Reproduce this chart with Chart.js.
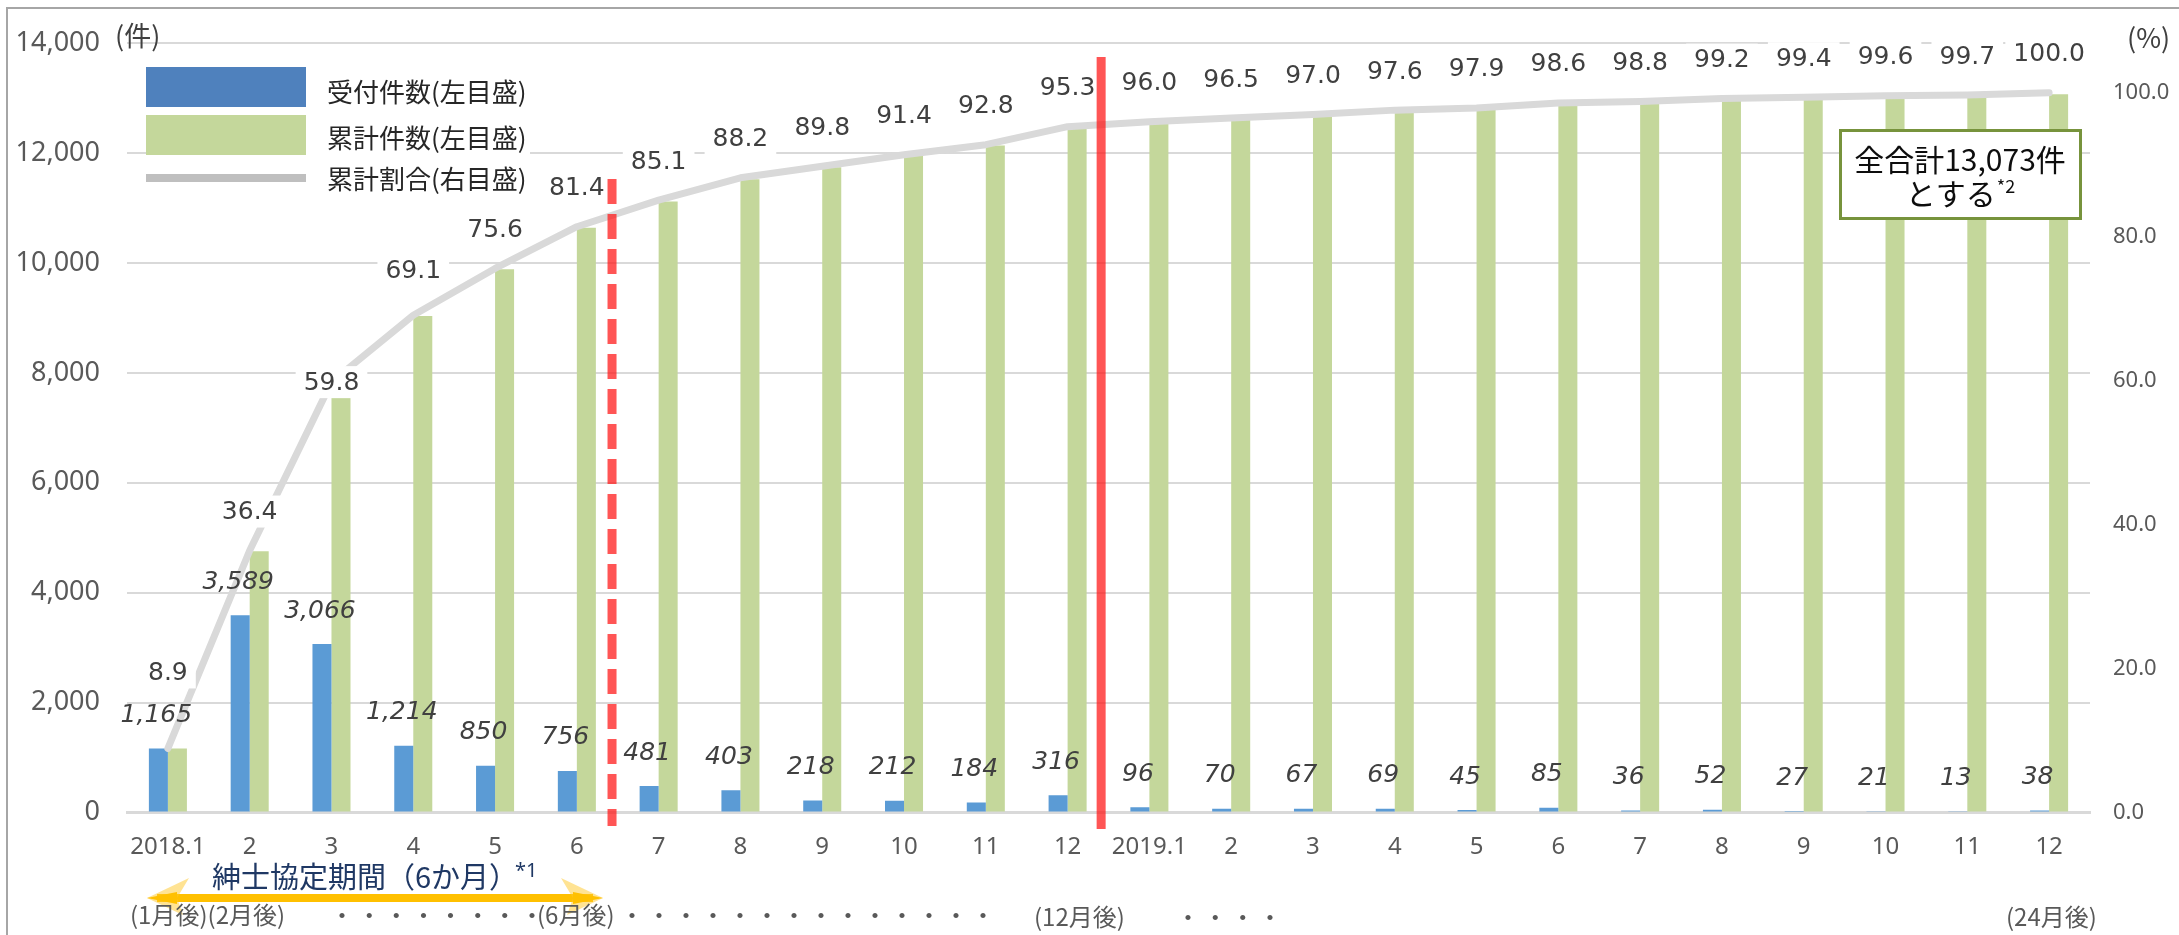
<!DOCTYPE html>
<html>
<head>
<meta charset="utf-8">
<title>受付件数と累計割合</title>
<script src="https://cdn.jsdelivr.net/npm/chart.js@4.4.1/dist/chart.umd.min.js"></script>
<style>
  html, body { margin: 0; padding: 0; background: #ffffff; }
  #wrap { position: relative; width: 2179px; height: 935px; }
  canvas { display: block; }
</style>
</head>
<body>
<div id="wrap"><canvas id="chart" width="2179" height="935"></canvas></div>
<script>
// ---- data ----
const months = ['2018.1','2','3','4','5','6','7','8','9','10','11','12',
                '2019.1','2','3','4','5','6','7','8','9','10','11','12'];
const received = [1165,3589,3066,1214,850,756,481,403,218,212,184,316,
                  96,70,67,69,45,85,36,52,27,21,13,38];
const cumulative = [1165,4754,7820,9034,9884,10640,11121,11524,11742,11954,12138,12454,
                    12550,12620,12687,12756,12801,12886,12922,12974,13001,13022,13035,13073];
const cumulativePct = [8.9,36.4,59.8,69.1,75.6,81.4,85.1,88.2,89.8,91.4,92.8,95.3,
                       96.0,96.5,97.0,97.6,97.9,98.6,98.8,99.2,99.4,99.6,99.7,100.0];
const leftTicks = [0,2000,4000,6000,8000,10000,12000,14000];
const rightTicks = [0,20,40,60,80,100];
const seriesNames = ['受付件数(左目盛)','累計件数(左目盛)','累計割合(右目盛)'];

// ---- styling ----
const LATIN = '"Noto Sans", "Noto Sans CJK JP", sans-serif';
const VALUE = '"DejaVu Sans", "Noto Sans", sans-serif';
const JP = '"Noto Sans CJK JP", "Noto Sans", sans-serif';
const BLUE = '#5b9bd5', BLUE_KEY = '#4f81bd', GREEN = '#c4d79b';
const LINE_GRAY = '#d9d9d9', KEY_GRAY = '#bfbfbf';
const RED = 'rgba(255,20,20,0.72)';
const LABEL = '#404040', TICK = '#595959';

// per-label lift of the percentage labels above their points (px)
const pctLift = i => ({0: 76, 2: 0, 3: 45}[i] ?? 39);

function dotsRow(ctx, x0, x1, n, y) {
  const step = (x1 - x0) / (n - 1);
  ctx.textAlign = 'center';
  for (let k = 0; k < n; k++) ctx.fillText('・', x0 + k * step, y);
}

const overlay = {
  id: 'overlay',
  afterDatasetsDraw(chart) {
    const ctx = chart.ctx;
    const xs = chart.scales.x;
    ctx.save();

    // values on the monthly bars
    const barMeta = chart.getDatasetMeta(0);
    ctx.font = `italic 25px ${VALUE}`;
    ctx.fillStyle = LABEL;
    ctx.textAlign = 'center';
    ctx.textBaseline = 'middle';
    barMeta.data.forEach((el, i) => {
      ctx.fillText(received[i].toLocaleString('en-US'), el.x - 2, el.y - 33);
    });

    // percentage labels with white boxes
    const lineMeta = chart.getDatasetMeta(2);
    ctx.font = `25px ${VALUE}`;
    lineMeta.data.forEach((pt, i) => {
      const txt = cumulativePct[i].toFixed(1);
      const w = ctx.measureText(txt).width;
      const cy = pt.y - pctLift(i);
      ctx.fillStyle = '#ffffff';
      ctx.fillRect(pt.x - w / 2 - 8, cy - 16, w + 16, 32);
      ctx.fillStyle = LABEL;
      ctx.fillText(txt, pt.x, cy + 1);
    });

    // legend
    ctx.fillStyle = '#ffffff';
    ctx.fillRect(146, 60, 384, 130);
    ctx.fillStyle = BLUE_KEY; ctx.fillRect(146, 67, 160, 40);
    ctx.fillStyle = GREEN;    ctx.fillRect(146, 115, 160, 40);
    ctx.fillStyle = KEY_GRAY; ctx.fillRect(146, 174, 160, 8);
    ctx.font = `26px ${JP}`;
    ctx.fillStyle = '#262626';
    ctx.textAlign = 'left';
    [92, 138, 179].forEach((yy, k) => ctx.fillText(seriesNames[k], 327, yy));

    // period dividers
    ctx.strokeStyle = RED;
    ctx.lineWidth = 9;
    ctx.lineCap = 'butt';
    const xDash = xs.getPixelForValue(5.43);
    ctx.setLineDash([25, 10]);
    ctx.beginPath(); ctx.moveTo(xDash, 179); ctx.lineTo(xDash, 826); ctx.stroke();
    ctx.setLineDash([]);
    const xSolid = xs.getPixelForValue(11.41);
    ctx.beginPath(); ctx.moveTo(xSolid, 57); ctx.lineTo(xSolid, 829); ctx.stroke();

    // total box
    ctx.fillStyle = '#ffffff';
    ctx.fillRect(1839, 129, 243, 91);
    ctx.strokeStyle = '#77933c';
    ctx.lineWidth = 3;
    ctx.strokeRect(1840.5, 130.5, 240, 88);
    ctx.fillStyle = '#0d0d0d';
    ctx.textAlign = 'center';
    ctx.font = `30px ${JP}`;
    ctx.fillText('全合計13,073件', 1960, 160);
    ctx.textAlign = 'left';
    const t2 = 'とする';
    const w2 = ctx.measureText(t2).width;
    ctx.font = `18px ${JP}`;
    const w3 = ctx.measureText('*2').width;
    const x2 = 1960 - (w2 + w3) / 2;
    ctx.font = `30px ${JP}`;
    ctx.fillText(t2, x2, 194);
    ctx.font = `18px ${JP}`;
    ctx.fillText('*2', x2 + w2 + 1, 186);

    ctx.restore();
  },
  afterDraw(chart) {
    const ctx = chart.ctx;
    ctx.save();
    ctx.textBaseline = 'middle';

    // axis unit captions
    ctx.fillStyle = LABEL;
    ctx.font = `27px ${JP}`;
    ctx.textAlign = 'left';
    ctx.fillText('(件)', 115, 36);
    ctx.fillText('(%)', 2127, 38);

    // agreement period caption and arrow
    ctx.fillStyle = '#1f3864';
    ctx.font = `29px ${JP}`;
    ctx.fillText('紳士協定期間（6か月）', 212, 877);
    ctx.font = `20px ${LATIN}`;
    ctx.fillText('*1', 515, 871);

    const ay = 898, ax0 = 147, ax1 = 603;
    ctx.fillStyle = '#ffc000';
    ctx.fillRect(ax0 + 10, ay - 4, ax1 - ax0 - 20, 8);
    [[ax0, 1], [ax1, -1]].forEach(([tip, d]) => {
      ctx.beginPath();
      ctx.moveTo(tip, ay);
      ctx.lineTo(tip + d * 42, ay - 20);
      ctx.lineTo(tip + d * 30, ay);
      ctx.lineTo(tip + d * 36, ay + 17);
      ctx.closePath();
      ctx.fillStyle = 'rgba(255,200,40,0.5)';
      ctx.fill();
      ctx.beginPath();
      ctx.moveTo(tip, ay);
      ctx.lineTo(tip + d * 30, ay - 6);
      ctx.lineTo(tip + d * 30, ay + 6);
      ctx.closePath();
      ctx.fillStyle = '#ffc000';
      ctx.fill();
    });

    // elapsed-month notes
    ctx.fillStyle = TICK;
    ctx.font = `24px ${JP}`;
    ctx.textAlign = 'left';
    ctx.fillText('(1月後)(2月後)', 130, 915);
    ctx.fillText('(6月後)', 537, 915);
    ctx.fillText('(12月後)', 1034, 917);
    ctx.fillText('(24月後)', 2006, 917);
    dotsRow(ctx, 342, 532, 8, 915);
    dotsRow(ctx, 632, 983, 14, 915);
    dotsRow(ctx, 1188, 1270, 4, 917);

    // frame
    ctx.strokeStyle = '#a6a6a6';
    ctx.lineWidth = 2;
    ctx.strokeRect(7, 8, 2200, 960);
    ctx.restore();
  }
};

new Chart(document.getElementById('chart'), {
  data: {
    labels: months,
    datasets: [
      { type: 'bar', label: seriesNames[0], data: received, yAxisID: 'y',
        backgroundColor: BLUE, borderWidth: 0, order: 1,
        barPercentage: 1, categoryPercentage: 0.465 },
      { type: 'bar', label: seriesNames[1], data: cumulative, yAxisID: 'y',
        backgroundColor: GREEN, borderWidth: 0, order: 1,
        barPercentage: 1, categoryPercentage: 0.465 },
      { type: 'line', label: seriesNames[2], data: cumulativePct, yAxisID: 'y2',
        borderColor: LINE_GRAY, borderWidth: 7, pointRadius: 0, tension: 0,
        borderCapStyle: 'round', borderJoinStyle: 'round', order: 0 }
    ]
  },
  options: {
    responsive: false,
    animation: false,
    devicePixelRatio: 1,
    layout: { padding: { top: 38, left: 0, right: 0, bottom: 0 } },
    plugins: { legend: { display: false }, tooltip: { enabled: false } },
    scales: {
      x: {
        offset: true,
        grid: { display: false, drawTicks: false },
        border: { display: true, color: '#d9d9d9', width: 3 },
        ticks: { color: TICK, font: { family: LATIN, size: 24 }, padding: 20,
                 maxRotation: 0, autoSkip: false },
        afterFit(s) { s.height = 122.5; }
      },
      y: {
        position: 'left', min: 0, max: 14000,
        grid: { color: '#d9d9d9', lineWidth: 2, drawTicks: false },
        border: { display: false },
        ticks: { color: TICK, font: { family: LATIN, size: 27 }, padding: 27,
                 callback: v => v.toLocaleString('en-US') },
        afterBuildTicks(s) { s.ticks = leftTicks.map(v => ({ value: v })); },
        afterFit(s) { s.width = 127; }
      },
      y2: {
        position: 'right', min: 0, max: 106.9,
        grid: { display: false, drawTicks: false },
        border: { display: false },
        ticks: { color: TICK, font: { family: LATIN, size: 22 }, padding: 23,
                 callback: v => Number(v).toFixed(1) },
        afterBuildTicks(s) { s.ticks = rightTicks.map(v => ({ value: v })); },
        afterFit(s) { s.width = 89; }
      }
    }
  },
  plugins: [overlay]
});
</script>
</body>
</html>
